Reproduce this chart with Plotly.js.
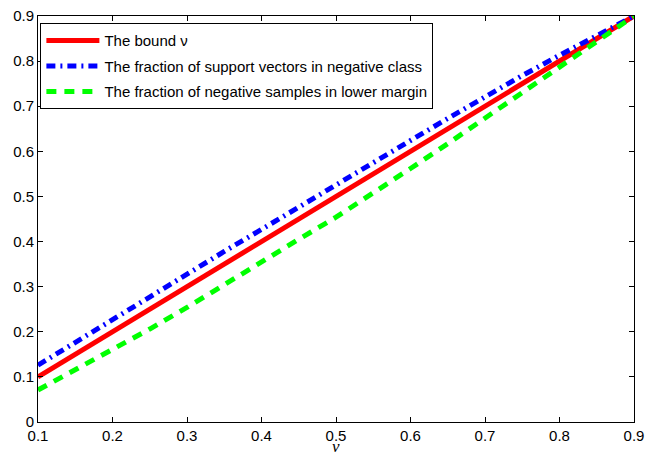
<!DOCTYPE html>
<html><head><meta charset="utf-8">
<script src="https://cdn.plot.ly/plotly-3.0.1.min.js"></script>
<style>html,body{margin:0;padding:0;background:#fff;}</style>
</head><body>
<div id="chart" style="width:654px;height:456px;"></div>
<script>
const nu = [0.1,0.15,0.2,0.25,0.3,0.35,0.4,0.45,0.5,0.55,0.6,0.65,0.7,0.75,0.8,0.85,0.9];
const bound = [0.1,0.15,0.2,0.25,0.3,0.35,0.4,0.45,0.5,0.55,0.6,0.65,0.7,0.75,0.8,0.85,0.9];
const svFraction = [0.126,0.177,0.226,0.277,0.328,0.378,0.427,0.477,0.527,0.576,0.624,0.673,0.721,0.768,0.813,0.858,0.9];
const marginFraction = [0.071,0.115,0.16,0.206,0.254,0.305,0.356,0.405,0.454,0.507,0.562,0.617,0.673,0.729,0.786,0.843,0.9];
const names = ['The bound \u03bd','The fraction of support vectors in negative class','The fraction of negative samples in lower margin'];
const xTicks = ['0.1','0.2','0.3','0.4','0.5','0.6','0.7','0.8','0.9'];
const yTicks = ['0','0.1','0.2','0.3','0.4','0.5','0.6','0.7','0.8','0.9'];
const xLabel = '\u03bd';

const traces = [
  {x: nu, y: bound, name: names[0], mode:'lines', legendgroup:'a', line:{color:'#ff0000', width:5}},
  {x: nu, y: svFraction, name: names[1], mode:'lines', legendgroup:'b', line:{color:'#0000ff', width:5, dash:'9px,5px,2px,5px'}},
  {x: nu, y: marginFraction, name: names[2], mode:'lines', legendgroup:'c', line:{color:'#00ff00', width:5, dash:'10px,8px'}}
];
const fam = 'Liberation Sans, Arial, sans-serif';
const layout = {
  width:654, height:456,
  margin:{l:38, r:20, t:16, b:34},
  paper_bgcolor:'#fff', plot_bgcolor:'#fff',
  font: {family:fam, size:15, color:'#000'},
  showlegend:true,
  legend:{x:0.004, y:0.982, xanchor:'left', yanchor:'top', bordercolor:'#000', borderwidth:1, bgcolor:'#fff',
          font:{family:fam, size:15, color:'#000'}, traceorder:'grouped', tracegroupgap:3, itemwidth:53},
  xaxis:{range:[0.1,0.9], tickvals:xTicks.map(Number), ticktext:xTicks,
         ticks:'inside', ticklen:5, tickcolor:'#000', showline:true, linecolor:'#000', linewidth:1, mirror:'ticks',
         showgrid:false, zeroline:false, tickfont:{size:15}},
  yaxis:{range:[0,0.9], tickvals:yTicks.map(Number), ticktext:yTicks,
         ticks:'inside', ticklen:5, tickcolor:'#000', showline:true, linecolor:'#000', linewidth:1, mirror:'ticks',
         showgrid:false, zeroline:false, tickfont:{size:15}},
  annotations:[{text:'<i>'+xLabel+'</i>', xref:'paper', yref:'paper', x:0.5, y:-34/406, xanchor:'center', yanchor:'bottom',
                yshift:-2, showarrow:false, font:{family:'Liberation Serif, serif', size:17, color:'#000'}}]
};
Plotly.newPlot('chart', traces, layout, {displayModeBar:false, staticPlot:true});
</script>
</body></html>
